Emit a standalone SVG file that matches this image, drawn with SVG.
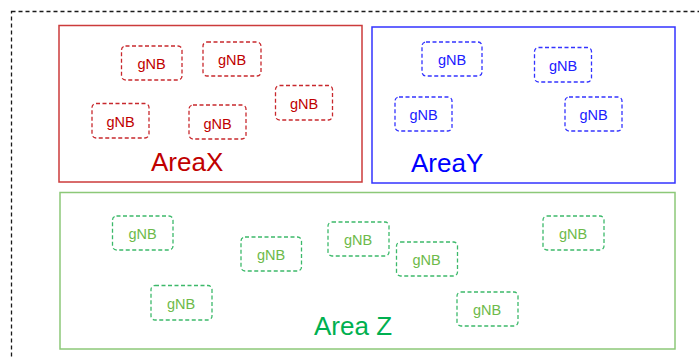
<svg xmlns="http://www.w3.org/2000/svg" width="699" height="358" viewBox="0 0 699 358">
<style>
.outer{fill:none;stroke:#1a1a1a;stroke-width:1.3;stroke-dasharray:4 3}
.area{fill:none;stroke-width:1.5}
.node{fill:none;stroke-width:1.3;stroke-dasharray:4 2.5}
.lbl{font-family:"Liberation Sans",Arial,sans-serif;font-size:14.5px;text-anchor:middle;dominant-baseline:central}
.title{font-family:"Liberation Sans",Arial,sans-serif;font-size:26px}
.xn{stroke:#C8282D}.xl{fill:#C00000}
.yn{stroke:#3333FF}.yl{fill:#2020FF}
.zn{stroke:#3CB96A}.zl{fill:#6DBA4A}
</style>
<rect width="699" height="358" fill="#fff"/>
<rect class="outer" x="11.5" y="11.5" width="720" height="380"/>
<g id="areaX">
<rect class="area" x="59" y="25.5" width="303" height="156.5" stroke="#CC3B3B"/>
<text class="title" x="151" y="171" fill="#C00000">AreaX</text>
</g>
<g id="areaY">
<rect class="area" x="372" y="27" width="303" height="156" stroke="#3333FF"/>
<text class="title" x="411" y="172" fill="#0000FF">AreaY</text>
</g>
<g id="areaZ">
<rect class="area" x="60" y="192.5" width="615" height="156.5" stroke="#8CC878"/>
<text class="title" x="314" y="335" fill="#00B050">Area Z</text>
</g>
<g id="x1"><rect class="node xn" x="121.5" y="46" width="60.5" height="34" rx="4"/><text class="lbl xl" x="151.5" y="63.5">gNB</text></g>
<g id="x2"><rect class="node xn" x="203" y="42" width="58" height="34" rx="4"/><text class="lbl xl" x="232" y="60">gNB</text></g>
<g id="x3"><rect class="node xn" x="275.5" y="85.5" width="57" height="34.5" rx="4"/><text class="lbl xl" x="304" y="103.5">gNB</text></g>
<g id="x4"><rect class="node xn" x="92" y="103.5" width="57" height="34.5" rx="4"/><text class="lbl xl" x="120.5" y="121.5">gNB</text></g>
<g id="x5"><rect class="node xn" x="189" y="105" width="57" height="34" rx="4"/><text class="lbl xl" x="217.5" y="123.5">gNB</text></g>
<g id="y1"><rect class="node yn" x="422" y="42" width="60" height="34" rx="4"/><text class="lbl yl" x="452" y="60">gNB</text></g>
<g id="y2"><rect class="node yn" x="534.5" y="47.5" width="57" height="34.5" rx="4"/><text class="lbl yl" x="563" y="65.5">gNB</text></g>
<g id="y3"><rect class="node yn" x="395" y="97" width="57" height="34" rx="4"/><text class="lbl yl" x="423.5" y="115">gNB</text></g>
<g id="y4"><rect class="node yn" x="565" y="97" width="57" height="34" rx="4"/><text class="lbl yl" x="593.5" y="115">gNB</text></g>
<g id="z1"><rect class="node zn" x="112.5" y="216" width="60.5" height="34" rx="4"/><text class="lbl zl" x="142.5" y="234">gNB</text></g>
<g id="z2"><rect class="node zn" x="241" y="237" width="60.5" height="34" rx="4"/><text class="lbl zl" x="271" y="255">gNB</text></g>
<g id="z3"><rect class="node zn" x="328" y="222" width="61" height="34" rx="4"/><text class="lbl zl" x="358" y="240">gNB</text></g>
<g id="z4"><rect class="node zn" x="396.5" y="242" width="61" height="34" rx="4"/><text class="lbl zl" x="426.5" y="260">gNB</text></g>
<g id="z5"><rect class="node zn" x="151" y="285.5" width="61" height="34.5" rx="4"/><text class="lbl zl" x="181" y="303.5">gNB</text></g>
<g id="z6"><rect class="node zn" x="543" y="216" width="61" height="34" rx="4"/><text class="lbl zl" x="573" y="234">gNB</text></g>
<g id="z7"><rect class="node zn" x="457" y="292" width="61" height="34" rx="4"/><text class="lbl zl" x="487" y="310">gNB</text></g>
<g id="connectors"/>
</svg>
